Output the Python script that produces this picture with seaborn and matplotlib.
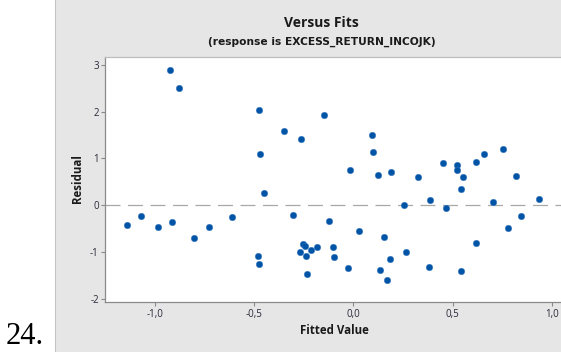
import matplotlib
matplotlib.use("Agg")
import matplotlib.pyplot as plt
import seaborn as sns
import pandas as pd
from matplotlib.patches import Rectangle

# Data
fitted = [-1.140, -1.071, -0.985, -0.926, -0.915, -0.878, -0.804, -0.728, -0.612,
          -0.483, -0.476, -0.474, -0.470, -0.452, -0.352, -0.305, -0.267, -0.263,
          -0.252, -0.246, -0.240, -0.236, -0.216, -0.185, -0.151, -0.125, -0.103,
          -0.100, -0.027, -0.018, 0.029, 0.093, 0.100, 0.122, 0.132, 0.154, 0.169,
          0.183, 0.187, 0.254, 0.263, 0.323, 0.379, 0.385, 0.450, 0.468, 0.521,
          0.521, 0.541, 0.544, 0.550, 0.617, 0.619, 0.657, 0.704, 0.753, 0.777,
          0.819, 0.846, 0.935]
residual = [-0.43, -0.23, -0.47, 2.886, -0.364, 2.507, -0.70, -0.47, -0.25,
            -1.08, 2.03, -1.257, 1.086, 0.27, 1.593, -0.207, -1.00, 1.42,
            -0.84, -0.87, -1.08, -1.48, -0.957, -0.90, 1.936, -0.33, -0.90,
            -1.10, -1.35, 0.743, -0.543, 1.50, 1.136, 0.643, -1.393, -0.686, -1.593,
            -1.157, 0.707, 0.014, -1.00, 0.60, -1.314, 0.107, 0.90, -0.05, 0.864,
            0.743, 0.35, -1.414, 0.607, 0.921, -0.80, 1.10, 0.071, 1.20, -0.493,
            0.629, -0.229, 0.129]
x_ticks = [-1.0, -0.5, 0.0, 0.5, 1.0]
x_tick_labels = ["-1,0", "-0,5", "0,0", "0,5", "1,0"]
y_ticks = [-2, -1, 0, 1, 2, 3]
y_tick_labels = ["-2", "-1", "0", "1", "2", "3"]
title = "Versus Fits"
subtitle = "(response is EXCESS_RETURN_INCOJK)"
x_label = "Fitted Value"
y_label = "Residual"

sns.set_theme(style="white")
plt.rcParams['font.family'] = ['Open Sans', 'DejaVu Sans']

W, H = 561, 352
fig = plt.figure(figsize=(W / 100, H / 100), dpi=100)
fig.patch.set_facecolor("white")

# grey graph panel
fig.patches.append(Rectangle((55 / W, -0.01), 1 - 55 / W + 0.01, 1.02, transform=fig.transFigure,
                             facecolor="#e6e6e6", edgecolor="#c4c4c4", linewidth=0.8, zorder=-10))

left, right, top, bottom = 105, 600, 56.7, 302.3
ax = fig.add_axes([left / W, 1 - bottom / H, (right - left) / W, (bottom - top) / H])
ax.set_zorder(1)
ax.set_facecolor("white")

df = pd.DataFrame({"fit": fitted, "res": residual})
sns.scatterplot(data=df, x="fit", y="res", ax=ax, color="#0054a6", s=22,
                linewidth=0.3, edgecolor="#3a78bf", zorder=3)
ax.axhline(0, color="#a8a8a8", lw=0.9, ls=(0, (12, 6)), zorder=2)

ax.set_xlim(-1.252, 1.242)
ax.set_ylim(-2.078, 3.178)
ax.set_xticks(x_ticks)
ax.set_xticklabels(x_tick_labels)
ax.set_yticks(y_ticks)
ax.set_yticklabels(y_tick_labels)
ax.tick_params(axis="both", length=3, width=0.8, color="#8a8a8a", pad=1.5,
               labelsize=7, labelcolor="#2a2a3a", direction="out")
ax.tick_params(axis="x", bottom=True)
ax.tick_params(axis="y", left=True)
ax.set_xlabel("")
ax.set_ylabel("")
for side in ["left", "bottom"]:
    ax.spines[side].set_color("#8a8a8a")
    ax.spines[side].set_linewidth(0.9)
ax.spines["top"].set_color("#bdbdbd")
ax.spines["top"].set_linewidth(0.9)
ax.spines["right"].set_visible(False)

fig.text(321 / W, 1 - 23 / H, title, ha="center", va="center", fontsize=10,
         fontweight="bold", color="#1a1a1a")
fig.text(322 / W, 1 - 42 / H, subtitle, ha="center", va="center", fontsize=7.7,
         family=["DejaVu Sans"], fontweight="bold", color="#1a1a1a")
fig.text(334 / W, 1 - 331 / H, x_label, ha="center", va="center", fontsize=8.3,
         fontweight="bold", color="#1a1a1a")
fig.text(78 / W, 1 - 179 / H, y_label, ha="center", va="center", fontsize=8.3,
         fontweight="bold", color="#1a1a1a", rotation=90)
fig.text(6 / W, 0.5 / H, "24.", ha="left", va="bottom", fontsize=22,
         family=["Liberation Serif"], color="black")

fig.savefig("out.png", dpi=100)
